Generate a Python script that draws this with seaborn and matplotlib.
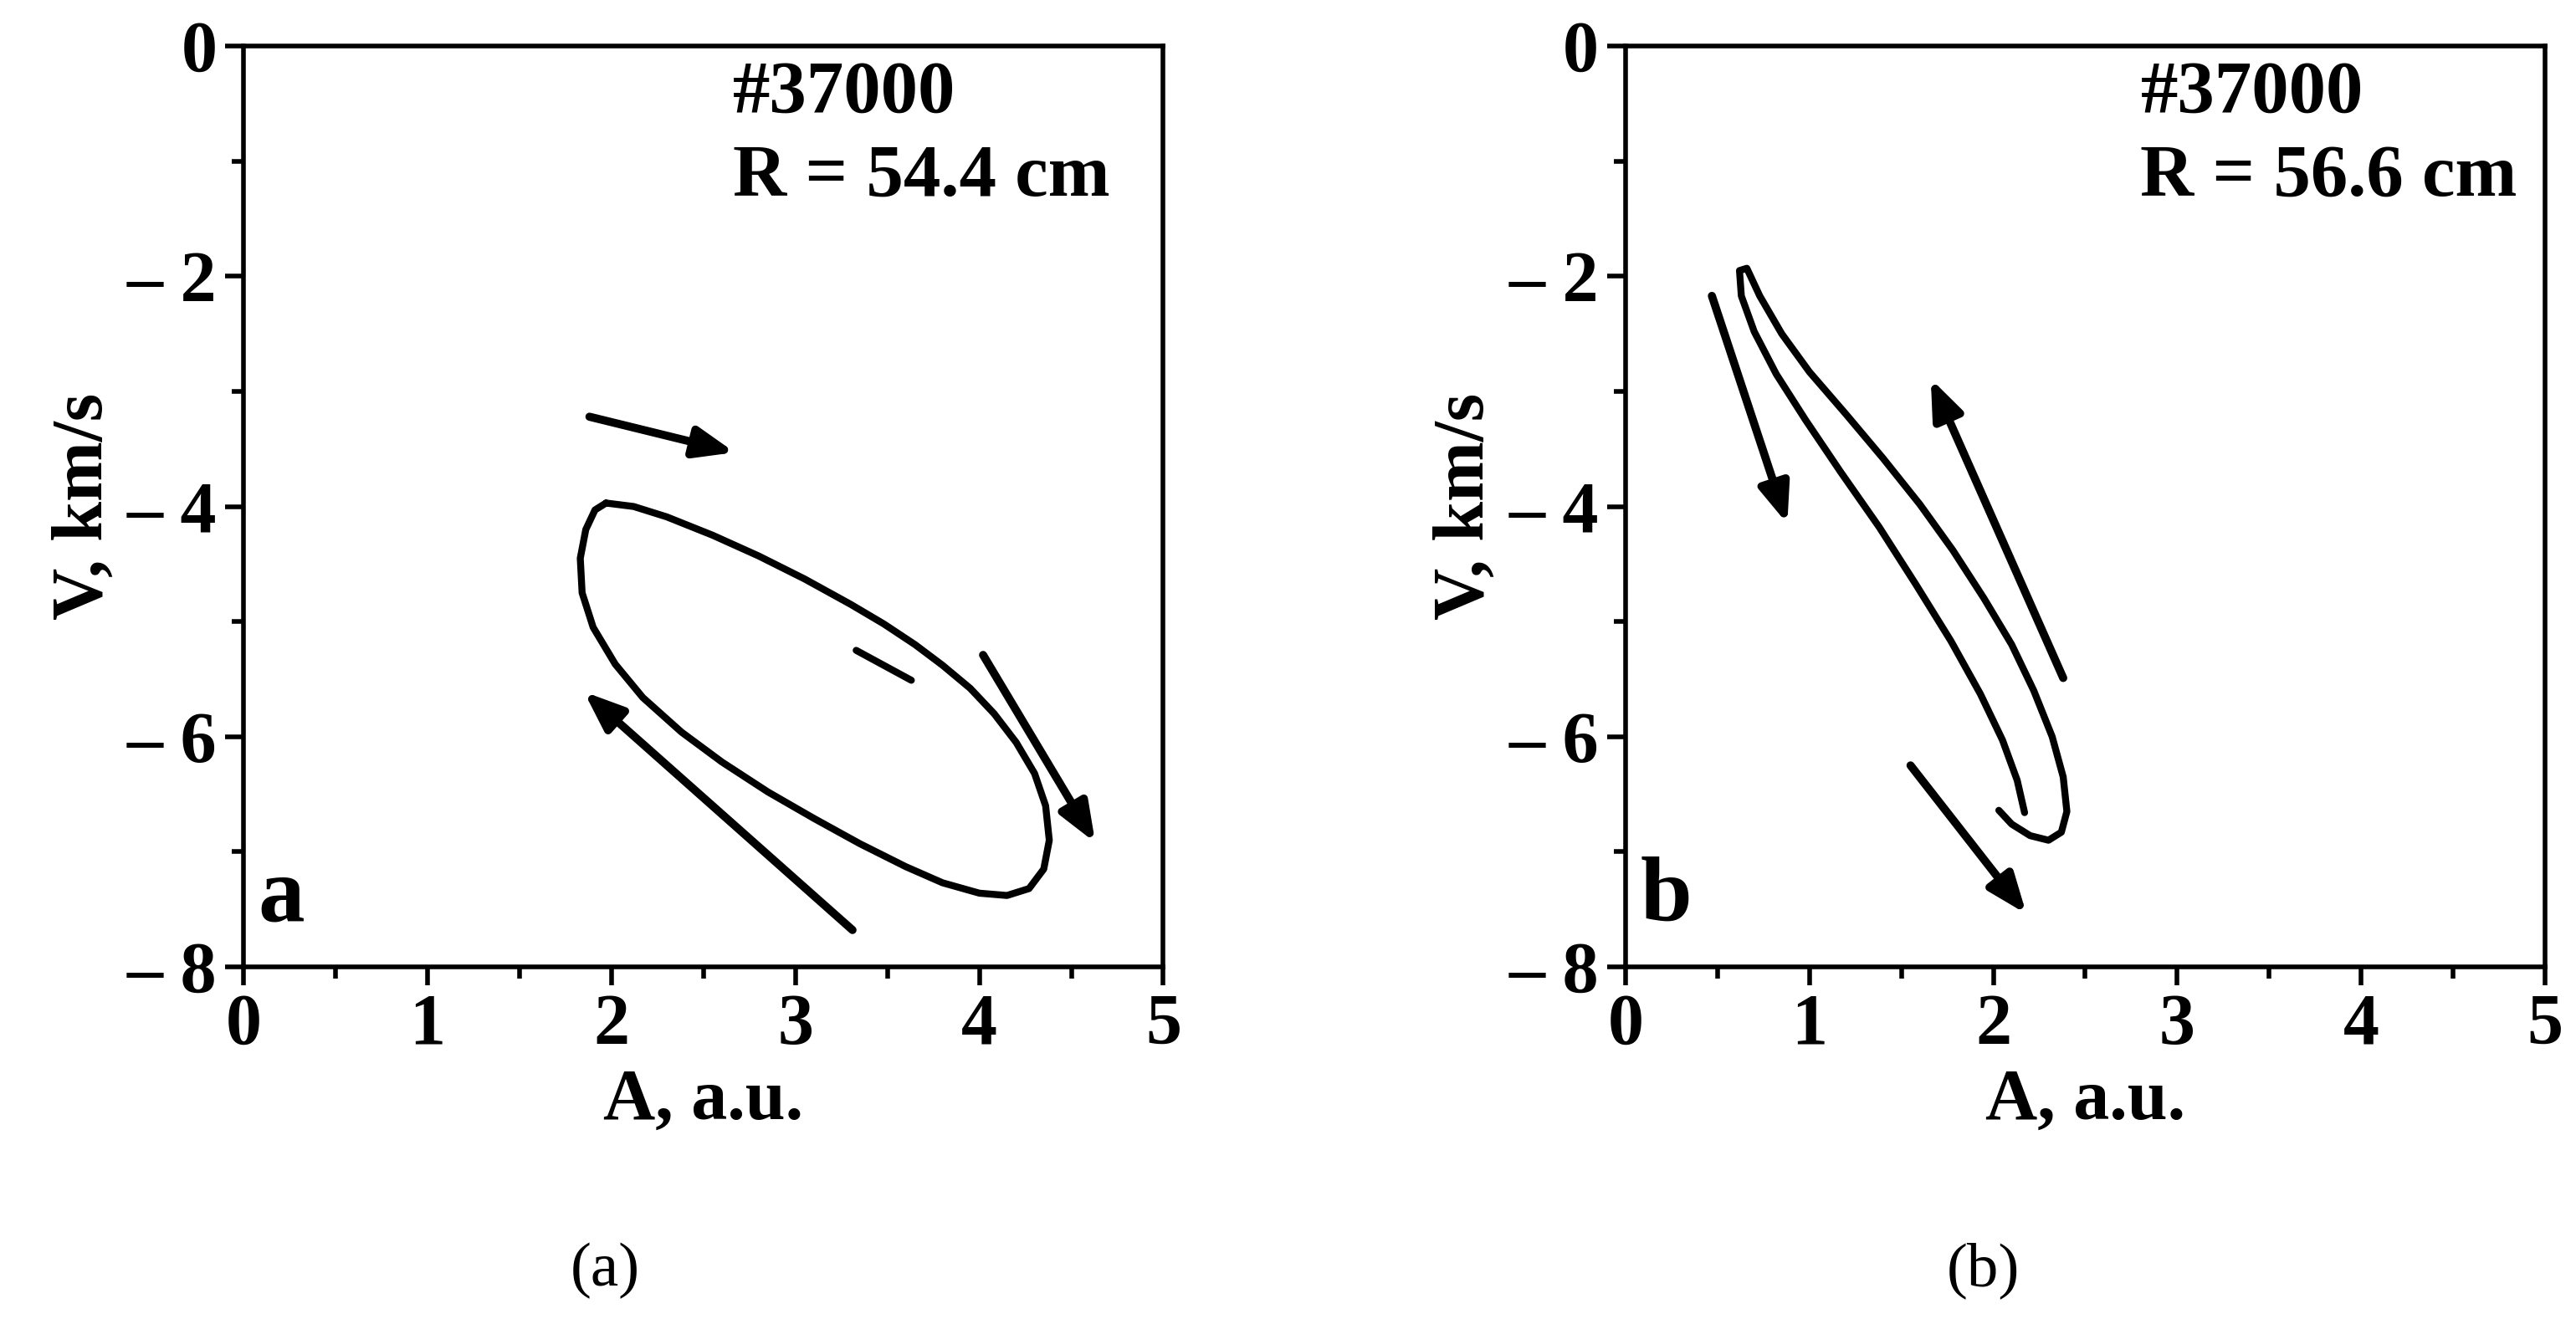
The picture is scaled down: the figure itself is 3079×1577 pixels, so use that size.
import matplotlib
matplotlib.use("Agg")
import matplotlib.pyplot as plt
import seaborn as sns
import pandas as pd

# loop in panel (a)
loop_a_x = [1.97, 2.12, 2.3, 2.55, 2.8, 3.05, 3.3, 3.48, 3.65, 3.8, 3.95, 4.08, 4.2,
            4.3, 4.36, 4.38, 4.35, 4.27, 4.15, 4.0, 3.8, 3.6, 3.35, 3.1, 2.85, 2.6,
            2.38, 2.17, 2.02, 1.9, 1.84, 1.83, 1.86, 1.91, 1.97]
loop_a_y = [-3.97, -4.0, -4.09, -4.25, -4.43, -4.63, -4.85, -5.02, -5.2, -5.38, -5.58,
            -5.8, -6.05, -6.32, -6.6, -6.9, -7.15, -7.32, -7.38, -7.36, -7.27, -7.13,
            -6.93, -6.71, -6.48, -6.22, -5.96, -5.66, -5.37, -5.05, -4.75, -4.45,
            -4.2, -4.03, -3.97]
# loop in panel (b)
loop_b_x = [2.03, 2.1, 2.2, 2.3, 2.37, 2.4, 2.38, 2.32, 2.22, 2.1, 1.95, 1.78, 1.6,
            1.4, 1.2, 1.0, 0.85, 0.73, 0.66, 0.62, 0.63, 0.7, 0.82, 0.98, 1.17, 1.38,
            1.58, 1.77, 1.93, 2.05, 2.13, 2.17]
loop_b_y = [-6.64, -6.76, -6.86, -6.9, -6.83, -6.65, -6.35, -6.0, -5.6, -5.2, -4.8,
            -4.38, -3.98, -3.58, -3.2, -2.83, -2.5, -2.17, -1.93, -1.95, -2.17, -2.48,
            -2.85, -3.25, -3.7, -4.18, -4.68, -5.17, -5.63, -6.03, -6.38, -6.66]

# arrows (start x, start y, end x, end y)
arrows_a = [(1.88, -3.22, 2.67, -3.53), (4.02, -5.29, 4.63, -6.92), (3.31, -7.68, 1.85, -5.61)]
arrows_b = [(0.47, -2.17, 0.88, -4.15), (2.38, -5.49, 1.66, -2.89), (1.55, -6.25, 2.18, -7.54)]
tick_a = (3.33, -5.25, 3.63, -5.51)

labels = ["#37000\nR = 54.4 cm", "#37000\nR = 56.6 cm"]
label_x = [2.66, 2.8]
letters = ["a", "b"]
captions = ["(a)", "(b)"]
caption_x = [0.235, 0.77]
x_ticks = [0, 1, 2, 3, 4, 5]
y_ticks = [0, -2, -4, -6, -8]
y_tick_labels = ["0", "– 2", "– 4", "– 6", "– 8"]

sns.set_style("ticks")
plt.rcParams["font.family"] = ["Liberation Serif", "DejaVu Serif"]
plt.rcParams["font.weight"] = "bold"
plt.rcParams["text.color"] = "black"
plt.rcParams["axes.labelcolor"] = "black"
plt.rcParams["xtick.color"] = "black"
plt.rcParams["ytick.color"] = "black"
plt.rcParams["axes.edgecolor"] = "black"

fig = plt.figure(figsize=(15.395, 7.885), dpi=200)
axes = [fig.add_axes([0.0946, 0.267, 0.357, 0.698]),
        fig.add_axes([0.631, 0.267, 0.357, 0.698])]

panels = [(loop_a_x, loop_a_y, arrows_a), (loop_b_x, loop_b_y, arrows_b)]
for i, (ax, (lx, ly, arr)) in enumerate(zip(axes, panels)):
    df = pd.DataFrame({"A": lx, "V": ly})
    sns.lineplot(data=df, x="A", y="V", sort=False, estimator=None, color="black",
                 linewidth=3, ax=ax)
    for x0, y0, x1, y1 in arr:
        ax.annotate("", xy=(x1, y1), xytext=(x0, y0),
                    arrowprops=dict(arrowstyle="-|>,head_length=1.4,head_width=0.55",
                                    color="black", lw=3.5, shrinkA=0, shrinkB=0))
    ax.set_xlim(0, 5)
    ax.set_ylim(-8, 0)
    ax.set_xticks(x_ticks)
    ax.set_xticks([0.5, 1.5, 2.5, 3.5, 4.5], minor=True)
    ax.set_yticks(y_ticks)
    ax.set_yticklabels(y_tick_labels)
    ax.set_yticks([-1, -3, -5, -7], minor=True)
    ax.tick_params(which="major", labelsize=31, width=2, length=8, direction="out")
    ax.tick_params(which="minor", width=2, length=5, direction="out")
    for s in ax.spines.values():
        s.set_linewidth(2)
    ax.set_xlabel("A, a.u.", fontsize=31, fontweight="bold")
    ax.set_ylabel("V, km/s", fontsize=31, fontweight="bold")
    ax.text(label_x[i], -0.12, labels[i], fontsize=32, fontweight="bold", va="top",
            linespacing=1.3)
    ax.text(0.08, -7.6, letters[i], fontsize=40, fontweight="bold")
    fig.text(caption_x[i], 0.025, captions[i], fontsize=27, fontweight="normal",
             ha="center")

axes[0].plot([tick_a[0], tick_a[2]], [tick_a[1], tick_a[3]], color="black", lw=3)

fig.savefig("out.png", dpi=200)
